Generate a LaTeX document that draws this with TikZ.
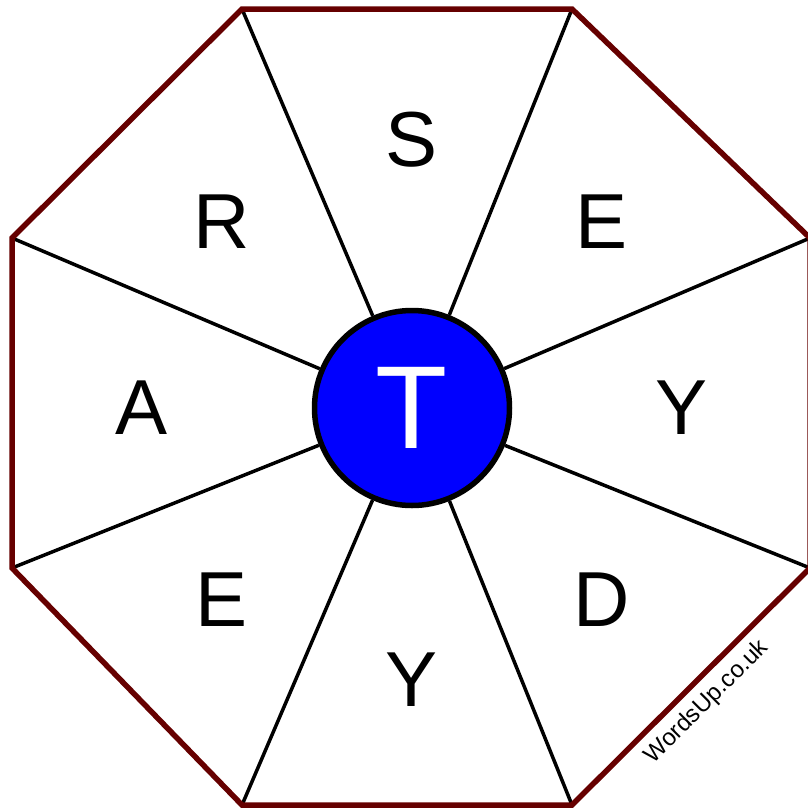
\documentclass[tikz,border=0pt]{standalone}
\usepackage{fontspec}
\setmainfont{Liberation Sans}
\begin{document}
\begin{tikzpicture}[x=1pt,y=-1pt,
  rim/.style={draw=rimred,line width=5.5pt,line join=miter},
  spoke/.style={draw=black,line width=3.5pt},
  hub/.style={circle,draw=black,line width=5.5pt,fill=blue,minimum size=195pt,inner sep=0pt,text=white,font=\fontsize{118}{118}\selectfont},
  letter/.style={font=\fontsize{78}{78}\selectfont,text=black,inner sep=0pt}]
\definecolor{rimred}{HTML}{660000}
\useasboundingbox (0,0) rectangle (807,809);
\coordinate (v1) at (242,9);
\coordinate (v2) at (572,9);
\coordinate (v3) at (810,238);
\coordinate (v4) at (810,568);
\coordinate (v5) at (572,805);
\coordinate (v6) at (242,805);
\coordinate (v7) at (12,568);
\coordinate (v8) at (12,238);
\node[hub] (c) at (412,408) {T};
\foreach \v in {v1,v2,v3,v4,v5,v6,v7,v8} \draw[spoke] (\v) -- (c);
\draw[rim] (v1) -- (v2) -- (v3) -- (v4) -- (v5) -- (v6) -- (v7) -- (v8) -- cycle;
\node[letter] (l1) at (412,140) {S};
\node[letter] (l2) at (602,222) {E};
\node[letter] (l3) at (682,408) {Y};
\node[letter] (l4) at (602,600) {D};
\node[letter] (l5) at (412,680) {Y};
\node[letter] (l6) at (222,600) {E};
\node[letter] (l7) at (142,408) {A};
\node[letter] (l8) at (222,222) {R};
\node[rotate=45,font=\fontsize{24}{24}\selectfont] (wm) at (707,702) {WordsUp.co.uk};
\end{tikzpicture}
\end{document}
